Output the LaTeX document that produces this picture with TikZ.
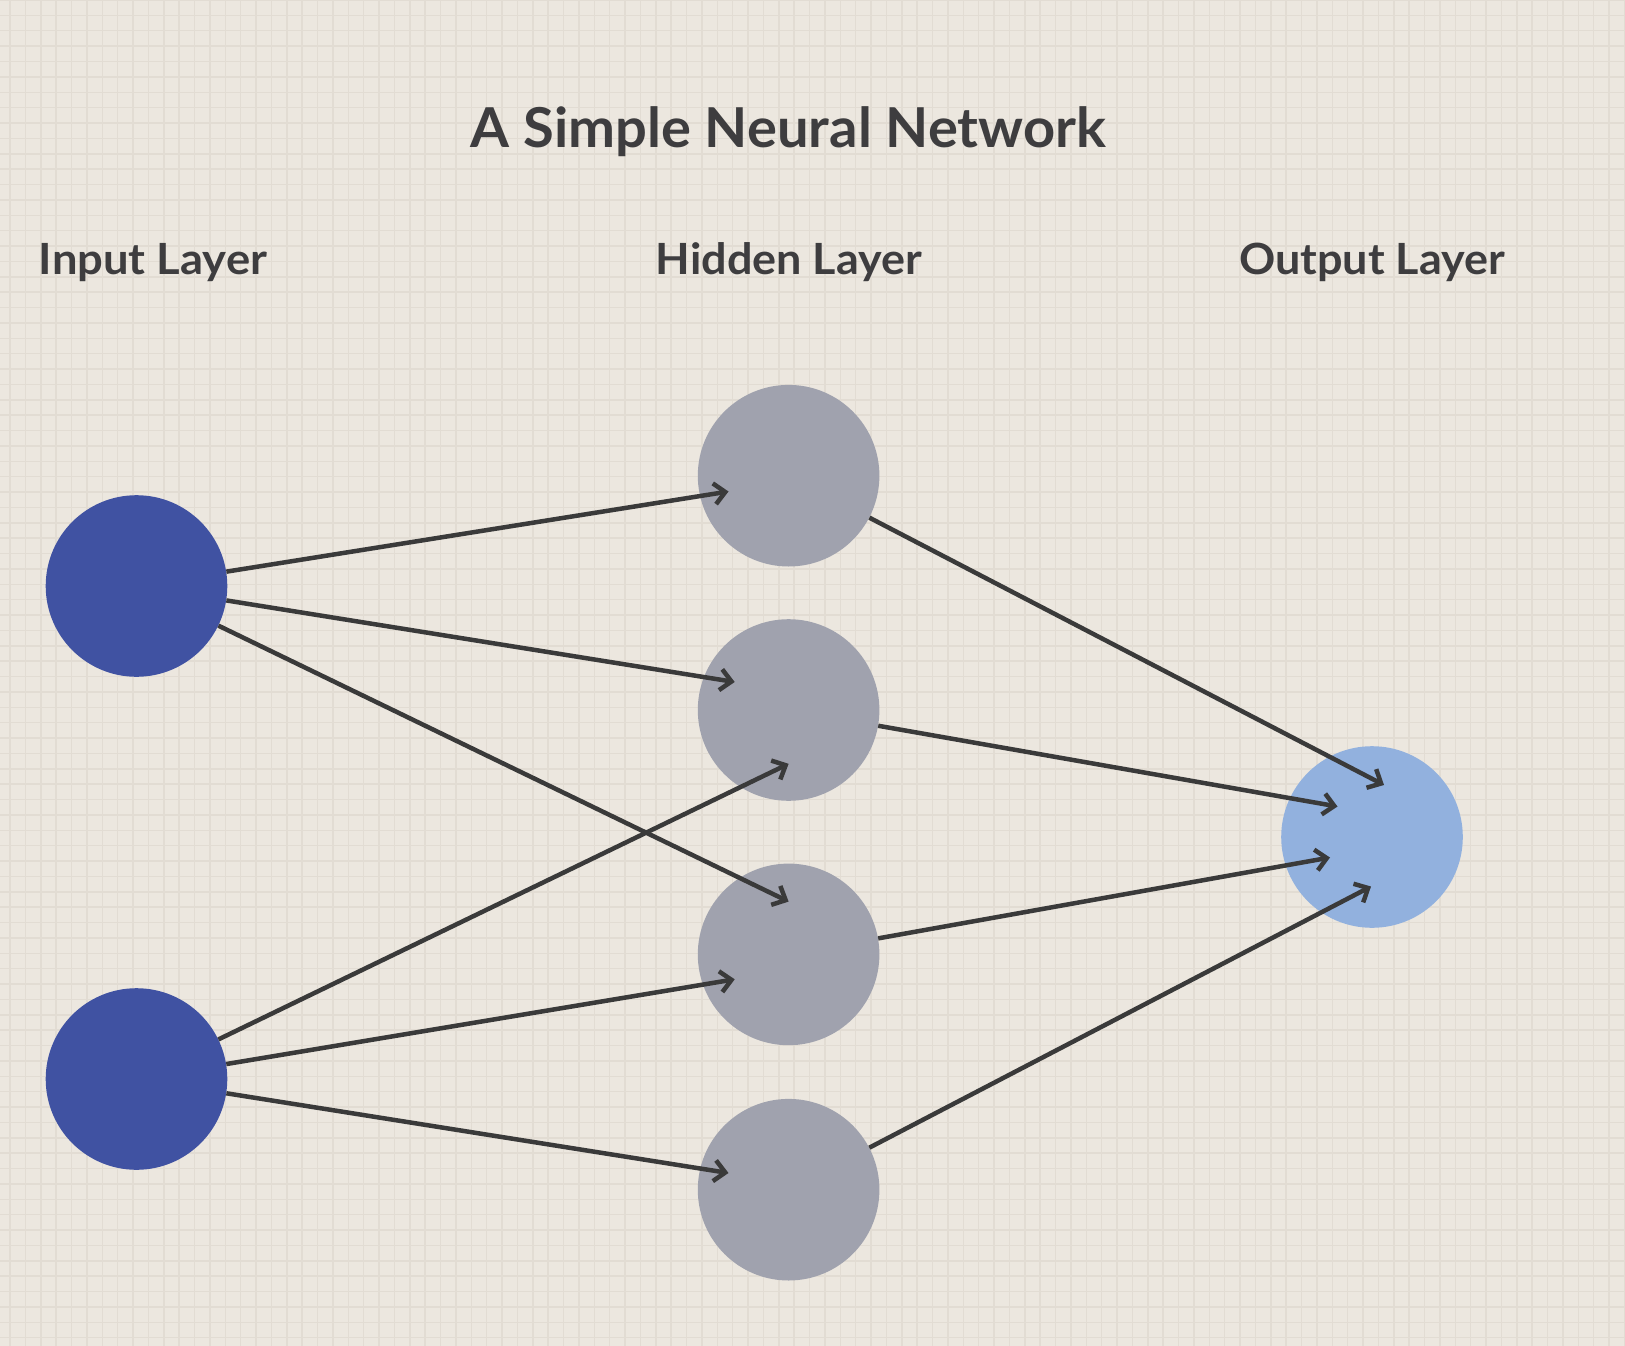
\documentclass[tikz,border=0pt]{standalone}
\usepackage{fontspec}
\setmainfont{Lato}
\usetikzlibrary{arrows.meta}
\definecolor{bgc}{HTML}{ECE7DF}
\definecolor{gridc}{HTML}{E2DCD3}
\definecolor{inc}{HTML}{4052A2}
\definecolor{hidc}{HTML}{A0A2AE}
\definecolor{outc}{HTML}{92B1DE}
\definecolor{linec}{HTML}{3A3A3A}
\definecolor{txtc}{HTML}{3E3D3F}
\begin{document}
\begin{tikzpicture}[x=1pt,y=-1pt,
  neuron/.style={circle,inner sep=0pt,minimum size=181.6pt,draw=none},
  inneuron/.style={neuron,fill=inc},
  hidneuron/.style={neuron,fill=hidc},
  outneuron/.style={neuron,fill=outc},
  conn/.style={draw=linec,line width=4.5pt,-{Straight Barb[length=11pt,width=21pt]}},
  titletext/.style={anchor=base,text=txtc,font=\fontsize{55}{60}\selectfont\bfseries,inner sep=0pt},
  labeltext/.style={anchor=base,text=txtc,font=\fontsize{43}{48}\selectfont\bfseries,inner sep=0pt}
]
\useasboundingbox (0,0) rectangle (1625,1346);
\fill[bgc] (0,0) rectangle (1625,1346);
\foreach \i in {0,...,105} \draw[gridc,line width=1.5pt] ({10+\i*15.375},0) -- ({10+\i*15.375},1346);
\foreach \j in {0,...,88} \draw[gridc,line width=1.5pt] (0,{\j*15.375}) -- (1625,{\j*15.375});

\node[titletext] (title) at (788.5,147) {\scalebox{1.02}[1]{A Simple Neural Network}};
\node[labeltext] (lin) at (153,274) {\scalebox{1.055}[1]{Input Layer}};
\node[labeltext] (lhid) at (789,274) {\scalebox{1.045}[1]{Hidden Layer}};
\node[labeltext] (lout) at (1372,274) {\scalebox{1.045}[1]{Output Layer}};

\node[inneuron] (i1) at (136.5,586) {};
\node[inneuron] (i2) at (136.5,1079) {};
\node[hidneuron] (h1) at (788.6,475.7) {};
\node[hidneuron] (h2) at (788.6,710) {};
\node[hidneuron] (h3) at (788.6,954.4) {};
\node[hidneuron] (h4) at (788.6,1189.7) {};
\node[outneuron] (o) at (1372,837) {};

\coordinate (t11) at (728.5,491.5);
\coordinate (t12) at (734.7,682);
\coordinate (t13) at (788.6,901.6);
\coordinate (t22) at (788.6,763.8);
\coordinate (t23) at (734.7,979.3);
\coordinate (t24) at (728.5,1173);
\coordinate (to1) at (1384,785);
\coordinate (to2) at (1337.5,806.5);
\coordinate (to3) at (1330,857.5);
\coordinate (to4) at (1371,886.5);

\draw[conn] (i1) -- (t11);
\draw[conn] (i1) -- (t12);
\draw[conn] (i1) -- (t13);
\draw[conn] (i2) -- (t22);
\draw[conn] (i2) -- (t23);
\draw[conn] (i2) -- (t24);
\draw[conn] (h1) -- (to1);
\draw[conn] (h2) -- (to2);
\draw[conn] (h3) -- (to3);
\draw[conn] (h4) -- (to4);
\end{tikzpicture}
\end{document}
